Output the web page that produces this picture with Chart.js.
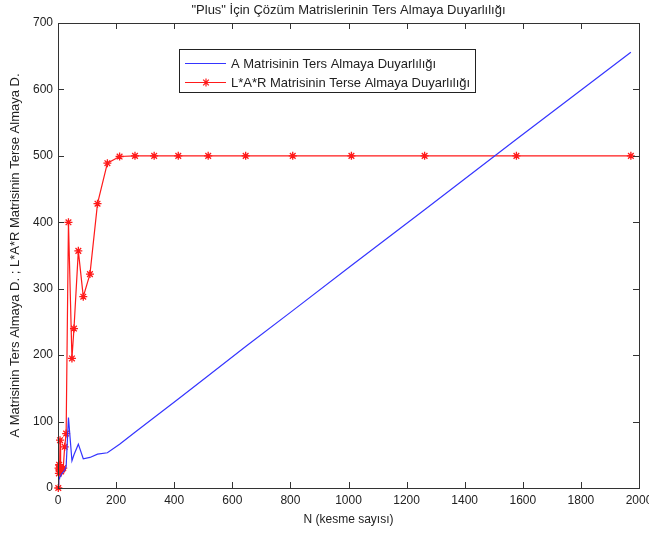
<!DOCTYPE html>
<html>
<head>
<meta charset="utf-8">
<script src="https://cdn.jsdelivr.net/npm/chart.js@4"></script>
<style>
html,body{margin:0;padding:0;background:#fff}
#wrap{width:649px;height:533px}
</style>
</head>
<body>
<div id="wrap"><canvas id="sensChart" width="649" height="533"></canvas></div>
<script>

// kesme sayısı (N)
const nValues = [1,2,3,4,5,6,7,9,11,14,18,23,28,36,48,55,70,87,110,136,170,212,265,331,414,517,646,808,1010,1262,1578,1972]

// A matrisinin ters almaya duyarlılığı
const aSens = [5,10,12,14,15,16,17,18,20,22,24,27,32,106,41,50,66,44,46,51,53,66,84,106,134,169,213,267,335,419,525,656]

// L*A*R matrisinin terse almaya duyarlılığı
const larSens = [0,30,22,35,28,25,72,30,25,28,30,62,82,400,195,240,357,288,322,428,489,499,500,500,500,500,500,500,500,500,500,500]

const xTicks = [0,200,400,600,800,1000,1200,1400,1600,1800,2000]
const yTicks = [0,100,200,300,400,500,600,700]

const titleText = "\"Plus\" İçin Çözüm Matrislerinin Ters Almaya Duyarlılığı"
const legendLabels = ["A Matrisinin Ters Almaya Duyarlılığı","L*A*R Matrisinin Terse Almaya Duyarlılığı"]

const blue = "#3535ff"
const red = "#ff1a1a"
const fontFamily = "'Liberation Sans', Arial, sans-serif"

Chart.defaults.font.family = fontFamily
Chart.defaults.font.size = 12
Chart.defaults.color = "#222"

// box with inward ticks, title and legend (matlab-like axes)
const matlabAxes = {
id:"matlabAxes",
afterDraw(chart){
const ctx = chart.ctx
const a = chart.chartArea
const xs = chart.scales.x
const ys = chart.scales.y

ctx.save()
ctx.strokeStyle = "#333"
ctx.lineWidth = 1
ctx.strokeRect(Math.round(a.left)+0.5, Math.round(a.top)+0.5, Math.round(a.right-a.left), Math.round(a.bottom-a.top))

ctx.beginPath()
xTicks.forEach(v=>{
const px = Math.round(xs.getPixelForValue(v))+0.5
ctx.moveTo(px,a.bottom); ctx.lineTo(px,a.bottom-6)
ctx.moveTo(px,a.top); ctx.lineTo(px,a.top+6)
})
yTicks.forEach(v=>{
const py = Math.round(ys.getPixelForValue(v))+0.5
ctx.moveTo(a.left,py); ctx.lineTo(a.left+6,py)
ctx.moveTo(a.right,py); ctx.lineTo(a.right-6,py)
})
ctx.stroke()

// title
ctx.fillStyle = "#222"
ctx.font = "13px " + fontFamily
ctx.textAlign = "center"
ctx.textBaseline = "middle"
ctx.fillText(titleText,(a.left+a.right)/2,10)

// legend
const lx = 179.5, ly = 49.5, lw = 296, lh = 43
ctx.fillStyle = "#fff"
ctx.fillRect(lx,ly,lw,lh)
ctx.strokeStyle = "#222"
ctx.strokeRect(lx,ly,lw,lh)

const rows = [63,82]
const colors = [blue,red]
rows.forEach((y,i)=>{
ctx.strokeStyle = colors[i]
ctx.lineWidth = 1.2
ctx.beginPath()
ctx.moveTo(185,y+0.5); ctx.lineTo(226,y+0.5)
ctx.stroke()
ctx.fillStyle = "#222"
ctx.textAlign = "left"
ctx.fillText(legendLabels[i],231,y+1)
})
ctx.strokeStyle = red
Chart.helpers.drawPoint(ctx,{pointStyle:"star",radius:4,borderWidth:1.2},206,rows[1]+0.5)

ctx.restore()
}
}

const ctx = document.getElementById("sensChart")

new Chart(ctx,{
type:"line",
data:{
datasets:[
{
label:legendLabels[0],
data:nValues.map((n,i)=>({x:n,y:aSens[i]})),
borderColor:blue,
borderWidth:1.2,
pointRadius:0,
tension:0
},
{
label:legendLabels[1],
data:nValues.map((n,i)=>({x:n,y:larSens[i]})),
borderColor:red,
borderWidth:1.2,
pointStyle:"star",
pointRadius:4,
pointBorderColor:red,
pointBorderWidth:1.3,
tension:0,
clip:false
}
]
},
options:{
responsive:false,
animation:false,
layout:{padding:{left:0,right:10,top:23,bottom:0}},
plugins:{
legend:{display:false},
tooltip:{enabled:false}
},
scales:{
x:{
type:"linear",
min:0,
max:2000,
afterBuildTicks:s=>{ s.ticks = xTicks.map(v=>({value:v})) },
afterFit:s=>{ s.height = 45; s.paddingLeft = 0; s.paddingRight = 0 },
grid:{display:false,drawTicks:false},
border:{display:false},
ticks:{padding:5,autoSkip:false,maxRotation:0,color:"#222",callback:v=>String(v)},
title:{display:true,text:"N (kesme sayısı)",padding:{top:0,bottom:6},color:"#222"}
},
y:{
min:0,
max:700,
afterBuildTicks:s=>{ s.ticks = yTicks.map(v=>({value:v})) },
afterFit:s=>{ s.width = 58; s.paddingTop = 0; s.paddingBottom = 0 },
grid:{display:false,drawTicks:false},
border:{display:false},
ticks:{padding:5,color:"#222",callback:v=>String(v)},
title:{display:true,text:"A Matrisinin Ters Almaya D. ; L*A*R Matrisinin Terse Almaya D.",padding:{top:8,bottom:0},color:"#222",font:{size:13}}
}
}
},
plugins:[matlabAxes]
})

</script>
</body>
</html>
